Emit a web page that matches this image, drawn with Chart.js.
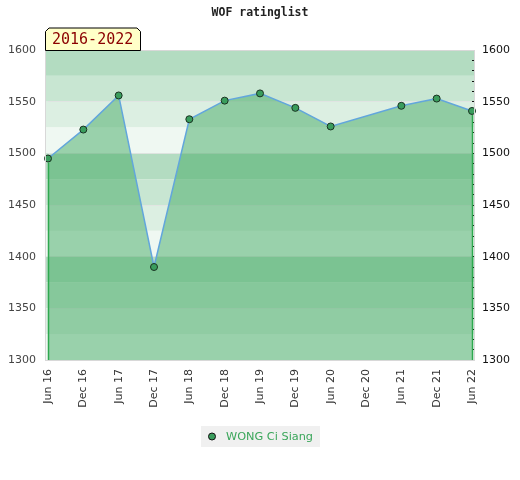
<!DOCTYPE html>
<html>
<head>
<meta charset="utf-8">
<script src="https://cdn.jsdelivr.net/npm/chart.js@4/dist/chart.umd.min.js"></script>
<style>
  html, body { margin: 0; padding: 0; background: #fff; }
  #wrap { width: 520px; height: 480px; }
</style>
</head>
<body>
<div id="wrap"><canvas id="rating-ctx" width="520" height="480"></canvas></div>
<script>
// DATA
const PERIODOS = ['Jun 16', 'Dec 16', 'Jun 17', 'Dec 17', 'Jun 18', 'Dec 18', 'Jun 19',
                  'Dec 19', 'Jun 20', 'Dec 20', 'Jun 21', 'Dec 21', 'Jun 22'];
const RATING = [1495, 1523, 1556, 1390, 1533, 1551, 1558, 1544, 1526, null, 1546, 1553, 1541];
const Y_TICKS = [1300, 1350, 1400, 1450, 1500, 1550, 1600];
const JUGADOR = 'WONG Ci Siang';
const TITULO = 'WOF ratinglist';
const RANGO = '2016-2022';

const Y_MIN = Y_TICKS[0];
const Y_MAX = Y_TICKS[Y_TICKS.length - 1];
const BANDA = 25;
const BANDA_COLORES = ['#b3dcc1', '#c8e6d2', '#dcefe2', '#eff8f2'];
const PUNTO_COLOR = '#3a9d5d';


// PLUGINS
const fondoBandas = {
  id: 'fondoBandas',
  beforeDraw(chart) {
    const {ctx, chartArea} = chart;
    const y = chart.scales.y;
    const left = chartArea.left - 3;
    const right = chartArea.right + 3;
    ctx.save();
    let k = 0;
    for (let v = Y_MAX; v > Y_MIN; v -= BANDA) {
      const top = y.getPixelForValue(v);
      const bot = y.getPixelForValue(v - BANDA);
      ctx.fillStyle = BANDA_COLORES[k % 4];
      ctx.fillRect(left, top, right - left, bot - top);
      k++;
    }
    ctx.restore();
  }
};

const bordesArea = {
  id: 'bordesArea',
  afterDatasetsDraw(chart) {
    const {ctx, chartArea} = chart;
    const meta = chart.getDatasetMeta(0);
    const pts = meta.data.filter((p, i) => RATING[i] !== null);
    const first = pts[0];
    const last = pts[pts.length - 1];

    ctx.save();
    ctx.strokeStyle = '#2ea84f';
    ctx.lineWidth = 1.5;
    [first, last].forEach(p => {
      ctx.beginPath();
      ctx.moveTo(Math.round(p.x) + 0.5, p.y + 4);
      ctx.lineTo(Math.round(p.x) + 0.5, chartArea.bottom);
      ctx.stroke();
    });

    // plot frame
    ctx.strokeStyle = '#d8d8d8';
    ctx.lineWidth = 1;
    ctx.strokeRect(chartArea.left - 2.5, chartArea.top + 0.5,
                   chartArea.right - chartArea.left + 5, chartArea.bottom - chartArea.top);
    ctx.restore();
  }
};

const textos = {
  id: 'textos',
  afterDraw(chart) {
    const {ctx, chartArea} = chart;
    ctx.save();

    // title
    ctx.fillStyle = '#222';
    ctx.font = 'bold 11.5px "DejaVu Sans Mono"';
    ctx.textAlign = 'center';
    ctx.textBaseline = 'middle';
    ctx.fillText(TITULO, 260, 13);

    // range label box
    const bx = chartArea.left - 3, by = 27.5, bw = 96, bh = 23, c = 4;
    ctx.beginPath();
    ctx.moveTo(bx + 0.5, by + bh);
    ctx.lineTo(bx + 0.5, by + c);
    ctx.lineTo(bx + c, by + 0.5);
    ctx.lineTo(bx + bw - c, by + 0.5);
    ctx.lineTo(bx + bw - 0.5, by + c);
    ctx.lineTo(bx + bw - 0.5, by + bh);
    ctx.closePath();
    ctx.fillStyle = '#ffffc8';
    ctx.fill();
    ctx.strokeStyle = '#000';
    ctx.lineWidth = 1;
    ctx.stroke();
    ctx.fillStyle = '#8b0000';
    ctx.font = '15px "DejaVu Sans Mono"';
    ctx.textAlign = 'left';
    ctx.fillText(RANGO, bx + 7, by + 13);

    // legend
    ctx.fillStyle = '#f0f0f0';
    ctx.fillRect(201, 426, 119, 21);
    ctx.beginPath();
    ctx.arc(212, 436.5, 3.5, 0, Math.PI * 2);
    ctx.fillStyle = PUNTO_COLOR;
    ctx.fill();
    ctx.strokeStyle = '#111';
    ctx.stroke();
    ctx.fillStyle = '#3aa65a';
    ctx.font = '11.3px "DejaVu Sans"';
    ctx.fillText(JUGADOR, 226, 437);

    ctx.restore();
  }
};


// CHART
const rating_ctx = document.getElementById('rating-ctx');

new Chart(rating_ctx, {
  type: 'line',
  data: {
    labels: PERIODOS,
    datasets: [{
      label: JUGADOR,
      data: RATING,
      yAxisID: 'y',
      spanGaps: true,
      fill: 'start',
      clip: false,
      tension: 0,
      borderColor: '#62a6dc',
      borderWidth: 1.5,
      backgroundColor: 'rgba(67, 170, 100, 0.5)',
      pointRadius: 3.5,
      pointBackgroundColor: PUNTO_COLOR,
      pointBorderColor: '#1a3322',
      pointBorderWidth: 1
    }]
  },
  options: {
    responsive: false,
    animation: false,
    devicePixelRatio: 1,
    layout: { padding: { top: 50, left: 0, right: 0, bottom: 0 } },
    plugins: {
      legend: { display: false },
      title: { display: false },
      tooltip: { enabled: false }
    },
    scales: {
      x: {
        type: 'category',
        offset: false,
        grid: { display: false, drawTicks: false },
        border: { display: false },
        ticks: {
          minRotation: 90,
          maxRotation: 90,
          autoSkip: false,
          padding: 9,
          color: '#333',
          font: { family: 'DejaVu Sans', size: 11 }
        },
        afterFit: (scale) => { scale.height = 120; }
      },
      y: {
        position: 'left',
        min: Y_MIN,
        max: Y_MAX,
        grid: { color: 'rgba(226, 226, 226, 0.8)', drawTicks: false },
        border: { display: false },
        ticks: {
          stepSize: 50,
          padding: 12,
          color: '#444',
          font: { family: 'DejaVu Sans', size: 11 },
          callback: (v) => String(v)
        },
        afterFit: (scale) => { scale.width = 48; }
      },
      y1: {
        position: 'right',
        min: Y_MIN,
        max: Y_MAX,
        grid: { drawOnChartArea: false, color: '#111', tickLength: 3 },
        border: { display: false },
        ticks: {
          stepSize: 10,
          autoSkip: false,
          padding: 7,
          color: '#111',
          font: { family: 'DejaVu Sans', size: 11 },
          callback: (v) => (v % 50 === 0 ? String(v) : '')
        },
        afterFit: (scale) => { scale.width = 48; }
      }
    }
  },
  plugins: [fondoBandas, bordesArea, textos]
});
</script>
</body>
</html>
